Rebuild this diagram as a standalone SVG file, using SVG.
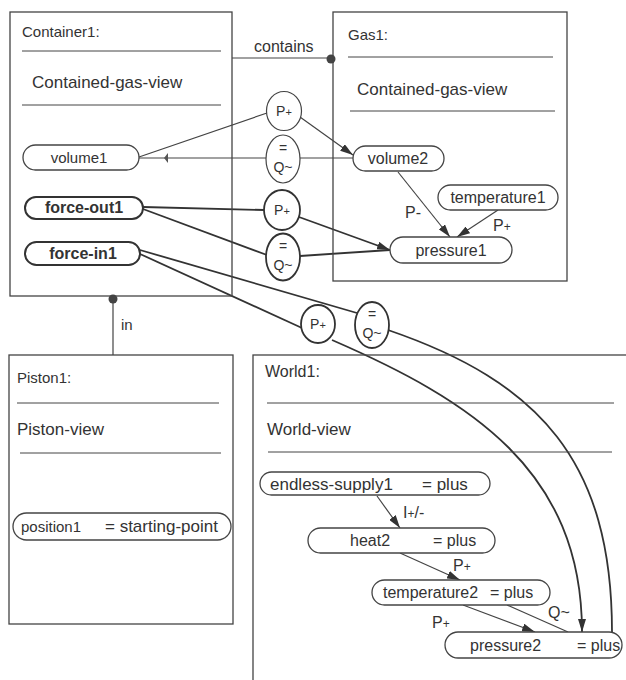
<svg xmlns="http://www.w3.org/2000/svg" width="626" height="680" viewBox="0 0 626 680">
<defs>
<style>
.box{fill:none;stroke:#444;stroke-width:1.3}
.sep{stroke:#444;stroke-width:1}
.pill{fill:#fff;stroke:#444;stroke-width:1.3}
.pillb{fill:#fff;stroke:#333;stroke-width:2}
.ell{fill:#fff;stroke:#444;stroke-width:1.2}
.ellb{fill:#fff;stroke:#333;stroke-width:1.8}
.t{font-family:"Liberation Sans",Arial,Helvetica,sans-serif;fill:#333;font-size:16px}
.ti{font-size:15px}
.tv{font-size:17px}
.tb{font-weight:bold;font-size:16px}
.tc{font-size:14px;text-anchor:middle}
.tm{text-anchor:middle}
.conn{fill:none;stroke:#444;stroke-width:1.2}
.connb{fill:none;stroke:#333;stroke-width:1.8}
</style>
<marker id="arr" markerUnits="userSpaceOnUse" markerWidth="13" markerHeight="8" refX="13" refY="4" orient="auto">
<path d="M0,0 L13,4 L0,8 z" fill="#333"/>
</marker>
</defs>
<rect width="626" height="680" fill="#fff"/>

<g id="connectors">
<line class="conn" x1="232" y1="58" x2="331" y2="58"/>
<circle cx="331" cy="59" r="4.5" fill="#444"/>
<text class="t" x="254" y="52">contains</text>
<line class="conn" x1="113" y1="296" x2="113" y2="355"/>
<circle cx="113" cy="299" r="4.5" fill="#444"/>
<text class="t ti" x="121" y="330">in</text>

<line class="conn" x1="139" y1="157" x2="267" y2="113"/>
<line class="conn" x1="266" y1="158" x2="139" y2="158"/>
<path d="M164,158 L168,153 L168,163 z" fill="#555"/>
<line class="conn" x1="300" y1="117" x2="353" y2="155" marker-end="url(#arr)"/>
<line class="conn" x1="300" y1="158" x2="353" y2="158"/>

<line class="connb" x1="143" y1="207" x2="264" y2="210"/>
<line class="connb" x1="143" y1="209" x2="267" y2="255"/>
<line class="connb" x1="299" y1="217" x2="390" y2="250" marker-end="url(#arr)"/>
<line class="connb" x1="300" y1="256" x2="390" y2="250"/>

<line class="connb" x1="140" y1="250" x2="357" y2="313"/>
<line class="connb" x1="140" y1="254" x2="302" y2="328"/>
<path class="connb" d="M332,340 C470,400 582,470 582,632" marker-end="url(#arr)"/>
<path class="connb" d="M388,330 C540,382 612,462 612,632"/>

<line class="conn" x1="398" y1="172" x2="450" y2="237" marker-end="url(#arr)"/>
<text class="t" x="405" y="218">P-</text>
<line class="conn" x1="498" y1="210" x2="457" y2="237" marker-end="url(#arr)"/>
<text class="t" x="493" y="231">P<tspan font-size="12">+</tspan></text>

<line class="conn" x1="377" y1="496" x2="400" y2="528" marker-end="url(#arr)"/>
<text class="t" x="403" y="518">I<tspan font-size="12">+</tspan>/-</text>
<line class="conn" x1="400" y1="553" x2="460" y2="580" marker-end="url(#arr)"/>
<text class="t" x="453" y="571">P<tspan font-size="12">+</tspan></text>
<line class="conn" x1="463" y1="605" x2="535" y2="632" marker-end="url(#arr)"/>
<text class="t" x="432" y="628">P<tspan font-size="12">+</tspan></text>
<line class="conn" x1="507" y1="605" x2="568" y2="632"/>
<text class="t" x="548" y="618">Q~</text>
</g>

<g id="Container1">
<rect class="box" x="10" y="12" width="222" height="284"/>
<text class="t ti" x="22" y="37">Container1:</text>
<line class="sep" x1="22" y1="51" x2="221" y2="51"/>
<text class="t tv" x="32" y="88">Contained-gas-view</text>
<line class="sep" x1="22" y1="105" x2="221" y2="105"/>
</g>
<g id="volume1">
<rect class="pill" x="23" y="145" width="116" height="25" rx="12.5"/>
<text class="t ti tm" x="79" y="163">volume1</text>
</g>
<g id="force-out1">
<rect class="pillb" x="25" y="197" width="118" height="22" rx="11"/>
<text class="t tb tm" x="84" y="213">force-out1</text>
</g>
<g id="force-in1">
<rect class="pillb" x="25" y="242" width="115" height="23" rx="11.5"/>
<text class="t tb tm" x="83" y="259">force-in1</text>
</g>

<g id="Gas1">
<rect class="box" x="333" y="12" width="234" height="269"/>
<text class="t ti" x="348" y="40">Gas1:</text>
<line class="sep" x1="348" y1="57" x2="553" y2="57"/>
<text class="t tv" x="357" y="95">Contained-gas-view</text>
<line class="sep" x1="350" y1="111" x2="555" y2="111"/>
</g>
<g id="volume2">
<rect class="pill" x="353" y="146" width="91" height="25" rx="12.5"/>
<text class="t tm" x="398" y="164">volume2</text>
</g>
<g id="temperature1">
<rect class="pill" x="438" y="185" width="120" height="25" rx="12.5"/>
<text class="t tm" x="498" y="203">temperature1</text>
</g>
<g id="pressure1">
<rect class="pill" x="390" y="237" width="122" height="26" rx="13"/>
<text class="t tm" x="451" y="256">pressure1</text>
</g>

<g id="rel1">
<ellipse class="ell" cx="284" cy="111" rx="17.5" ry="19.5"/>
<text class="t tc" x="284" y="116">P<tspan font-size="11">+</tspan></text>
</g>
<g id="rel2">
<ellipse class="ell" cx="283" cy="159" rx="17" ry="24"/>
<text class="t tc" x="283" y="153">=</text>
<text class="t tc" x="283" y="172">Q~</text>
</g>
<g id="rel3">
<ellipse class="ellb" cx="282" cy="210" rx="18" ry="20"/>
<text class="t tc" x="282" y="215">P<tspan font-size="11">+</tspan></text>
</g>
<g id="rel4">
<ellipse class="ellb" cx="283" cy="257" rx="17" ry="23.5"/>
<text class="t tc" x="283" y="251">=</text>
<text class="t tc" x="283" y="270">Q~</text>
</g>
<g id="rel5">
<ellipse class="ellb" cx="318" cy="324" rx="17" ry="19"/>
<text class="t tc" x="318" y="329">P<tspan font-size="11">+</tspan></text>
</g>
<g id="rel6">
<ellipse class="ellb" cx="372" cy="325" rx="17" ry="23"/>
<text class="t tc" x="372" y="319">=</text>
<text class="t tc" x="372" y="338">Q~</text>
</g>

<g id="Piston1">
<rect class="box" x="9" y="355" width="224" height="269"/>
<text class="t ti" x="17" y="383">Piston1:</text>
<line class="sep" x1="17" y1="403" x2="219" y2="403"/>
<text class="t tv" x="17" y="435">Piston-view</text>
<line class="sep" x1="20" y1="453" x2="221" y2="453"/>
</g>
<g id="position1">
<rect class="pill" x="13" y="513" width="218" height="27" rx="13.5"/>
<text class="t ti" x="21" y="532">position1</text>
<text class="t tv" x="105" y="532">= starting-point</text>
</g>

<g id="World1">
<rect class="box" x="253" y="355" width="400" height="400"/>
<text class="t" x="265" y="377">World1:</text>
<line class="sep" x1="267" y1="403" x2="614" y2="403"/>
<text class="t tv" x="267" y="435">World-view</text>
<line class="sep" x1="268" y1="452" x2="612" y2="452"/>
</g>
<g id="endless-supply1">
<rect class="pill" x="260" y="472" width="230" height="23" rx="11.5"/>
<text class="t tv" x="270" y="490">endless-supply1</text>
<text class="t tv" x="422" y="490">= plus</text>
</g>
<g id="heat2">
<rect class="pill" x="308" y="528" width="187" height="25" rx="12.5"/>
<text class="t" x="350" y="546">heat2</text>
<text class="t" x="433" y="546">= plus</text>
</g>
<g id="temperature2">
<rect class="pill" x="372" y="580" width="178" height="25" rx="12.5"/>
<text class="t" x="383" y="598">temperature2</text>
<text class="t" x="490" y="598">= plus</text>
</g>
<g id="pressure2">
<rect class="pill" x="445" y="632" width="177" height="26" rx="13"/>
<text class="t" x="470" y="651">pressure2</text>
<text class="t" x="577" y="651">= plus</text>
</g>
</svg>
